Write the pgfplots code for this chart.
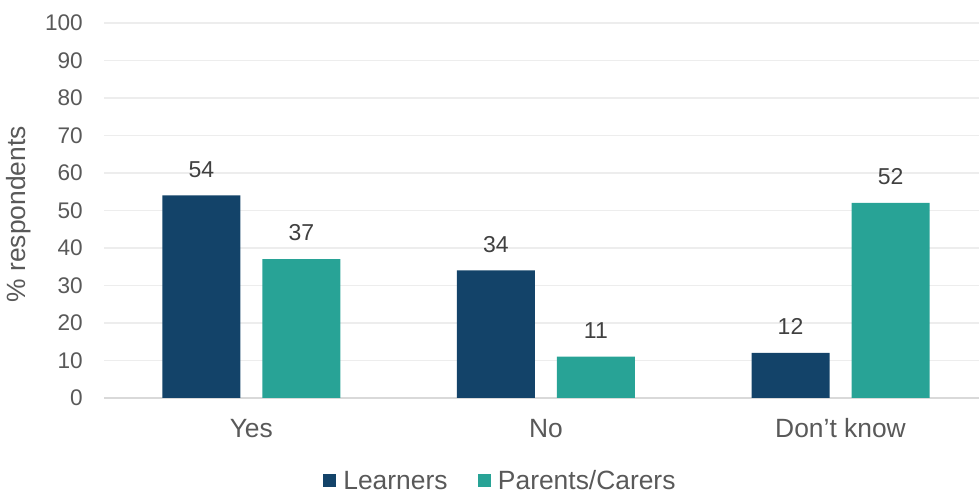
\documentclass[border=0pt]{standalone}
\usepackage{fontspec}
\setmainfont{Liberation Sans}
\usepackage{pgfplots}
\pgfplotsset{compat=1.18}
\definecolor{learn}{HTML}{134369}
\definecolor{parent}{HTML}{28A396}
\definecolor{txt}{HTML}{595959}
\definecolor{dtxt}{HTML}{404040}
\definecolor{gridc}{HTML}{EDEDED}
\definecolor{axl}{HTML}{D9D9D9}
\begin{document}
\begin{tikzpicture}[x=1pt,y=1pt]
\path[use as bounding box] (0,0) rectangle (979,495);
\begin{axis}[
  at={(104pt,97pt)}, anchor=south west,
  scale only axis, width=875pt, height=375pt,
  xmin=-0.5, xmax=2.47, ymin=0, ymax=100,
  ytick={0,10,...,100},
  xtick={0,1,2}, xticklabels={Yes,No,Don’t know},
  major tick length=0pt,
  ymajorgrids, grid style={gridc, line width=1.2pt},
  axis x line*=bottom, axis y line*=left,
  x axis line style={axl, line width=1.4pt, -},
  y axis line style={draw=none},
  /pgf/number format/assume math mode=true,
  tick label style={font=\fontsize{22.6}{27}\selectfont, text=txt},
  yticklabel style={anchor=east, inner sep=0pt, xshift=-21pt},
  xticklabel style={font=\fontsize{26.4}{31}\selectfont, anchor=base, inner sep=0pt, yshift=-39pt},
  ylabel={\% respondents},
  every axis y label/.style={at={(axis description cs:-0.097,0.49)}, rotate=90, anchor=center, inner sep=0pt, font=\fontsize{26.4}{31}\selectfont, text=txt},
  ybar, bar width=78pt,
  nodes near coords,
  every node near coord/.append style={font=\fontsize{23}{27}\selectfont, text=dtxt, anchor=south, inner sep=0pt, yshift=18pt},
  legend columns=2,
  legend style={at={(axis description cs:0.4557,-0.221)}, anchor=center, draw=none, fill=none,
    font=\fontsize{26.4}{31}\selectfont, text=txt,
    /tikz/every even column/.append style={column sep=23pt},
    nodes={inner xsep=7pt, inner ysep=0pt}},
  legend image code/.code={\fill[#1] (0pt,-6.5pt) rectangle (13.4pt,6.9pt);},
]
\addplot[fill=learn, draw=none, bar shift=-50pt] coordinates {(0,54) (1,34) (2,12)};
\addlegendentry{Learners}
\addplot[fill=parent, draw=none, bar shift=50pt] coordinates {(0,37) (1,11) (2,52)};
\addlegendentry{Parents/Carers}
\end{axis}
\end{tikzpicture}
\end{document}
